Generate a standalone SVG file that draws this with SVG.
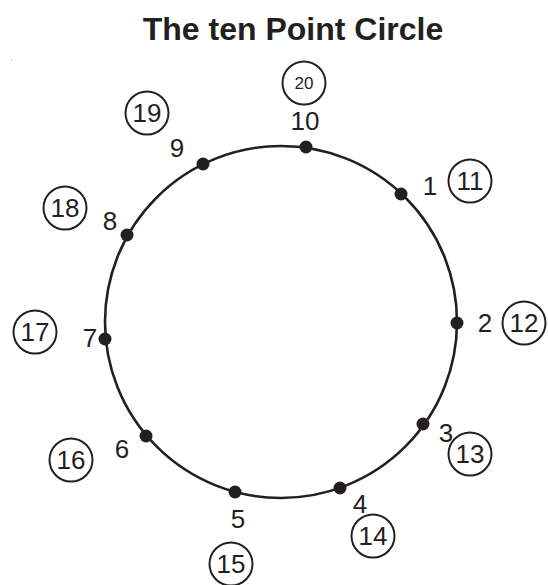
<svg xmlns="http://www.w3.org/2000/svg" width="548" height="585" viewBox="0 0 548 585">
<style>
text{font-family:"Liberation Sans",Arial,sans-serif;fill:#231f20;text-anchor:middle}
.title{font-size:32px;font-weight:bold}
.lbl{font-size:26px}
.num{font-size:26px}
.sm{font-size:17px}
.ring{fill:none;stroke:#231f20;stroke-width:2}
.main{fill:none;stroke:#231f20;stroke-width:2.6}
.dot{fill:#231f20}
</style>
<rect width="548" height="585" fill="#fff"/>
<text class="title" x="293" y="40">The ten Point Circle</text>
<rect x="11" y="60" width="1" height="1" fill="#999"/>
<g id="connectors">
<circle class="main" cx="281" cy="322" r="176"/>
</g>
<g id="p10"><circle class="dot" cx="306" cy="147" r="6.5"/><text class="lbl" x="305" y="130">10</text></g>
<g id="p1"><circle class="dot" cx="401" cy="194" r="6.5"/><text class="lbl" x="430" y="195">1</text></g>
<g id="p2"><circle class="dot" cx="457" cy="323" r="6.5"/><text class="lbl" x="485" y="332">2</text></g>
<g id="p3"><circle class="dot" cx="423" cy="424" r="6.5"/><text class="lbl" x="446" y="442">3</text></g>
<g id="p4"><circle class="dot" cx="340" cy="488" r="6.5"/><text class="lbl" x="360" y="513">4</text></g>
<g id="p5"><circle class="dot" cx="235" cy="492" r="6.5"/><text class="lbl" x="238" y="528">5</text></g>
<g id="p6"><circle class="dot" cx="146" cy="436" r="6.5"/><text class="lbl" x="122" y="458">6</text></g>
<g id="p7"><circle class="dot" cx="105" cy="339" r="6.5"/><text class="lbl" x="90" y="347">7</text></g>
<g id="p8"><circle class="dot" cx="127" cy="235" r="6.5"/><text class="lbl" x="110" y="230">8</text></g>
<g id="p9"><circle class="dot" cx="203" cy="164" r="6.5"/><text class="lbl" x="177" y="157">9</text></g>
<g id="c11"><circle class="ring" cx="470" cy="181" r="21.5"/><text class="num" x="470" y="190">11</text></g>
<g id="c12"><circle class="ring" cx="524" cy="323" r="21.5"/><text class="num" x="524" y="332">12</text></g>
<g id="c13"><circle class="ring" cx="470" cy="454" r="21.5"/><text class="num" x="470" y="463">13</text></g>
<g id="c14"><circle class="ring" cx="373" cy="536" r="21.5"/><text class="num" x="373" y="545">14</text></g>
<g id="c15"><circle class="ring" cx="231" cy="564" r="21.5"/><text class="num" x="231" y="573">15</text></g>
<g id="c16"><circle class="ring" cx="71" cy="460" r="21.5"/><text class="num" x="71" y="469">16</text></g>
<g id="c17"><circle class="ring" cx="35" cy="332" r="21.5"/><text class="num" x="35" y="341">17</text></g>
<g id="c18"><circle class="ring" cx="65" cy="208" r="21.5"/><text class="num" x="65" y="217">18</text></g>
<g id="c19"><circle class="ring" cx="147" cy="113" r="21.5"/><text class="num" x="147" y="122">19</text></g>
<g id="c20"><circle class="ring" cx="304" cy="83" r="21.5"/><text class="sm" x="304" y="89">20</text></g>
</svg>
